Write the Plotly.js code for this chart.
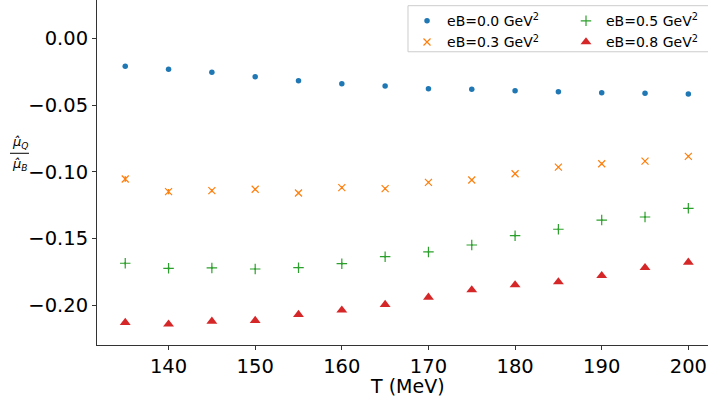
<!DOCTYPE html>
<html>
<head>
<meta charset="utf-8">
<script src="https://cdn.plot.ly/plotly-3.0.1.min.js"></script>
<style>html,body{margin:0;padding:0;background:#fff;}#chart{width:708px;height:401px;}</style>
</head>
<body>
<div id="chart"></div>
<script>
// Temperatures (MeV)
var T = [135, 140, 145, 150, 155, 160, 165, 170, 175, 180, 185, 190, 195, 200];

// mu_Q / mu_B ratios for each magnetic field
var eB00 = [-0.0208, -0.0231, -0.0253, -0.0286, -0.0316, -0.0339, -0.0356, -0.0376, -0.0381, -0.0391, -0.0399, -0.0406, -0.0411, -0.0416];
var eB03 = [-0.1053, -0.1148, -0.1141, -0.1130, -0.1158, -0.1118, -0.1126, -0.1078, -0.1061, -0.1014, -0.0964, -0.0939, -0.0919, -0.0883];
var eB05 = [-0.1685, -0.1723, -0.1720, -0.1728, -0.1718, -0.1688, -0.1636, -0.1600, -0.1548, -0.1478, -0.1430, -0.1361, -0.1338, -0.1273];
var eB08 = [-0.2130, -0.2142, -0.2120, -0.2115, -0.2070, -0.2037, -0.1995, -0.1940, -0.1885, -0.1848, -0.1825, -0.1778, -0.1718, -0.1678];

// error estimates
var err00 = [0.0006, 0.0006, 0.0006, 0.0006, 0.0006, 0.0006, 0.0006, 0.0006, 0.0006, 0.0006, 0.0006, 0.0006, 0.0006, 0.0006];
var err03 = [0.0020, 0.0020, 0.0012, 0.0010, 0.0010, 0.0010, 0.0010, 0.0008, 0.0008, 0.0008, 0.0008, 0.0008, 0.0008, 0.0008];
var err05 = [0.0010, 0.0010, 0.0008, 0.0008, 0.0008, 0.0008, 0.0008, 0.0008, 0.0008, 0.0008, 0.0008, 0.0008, 0.0008, 0.0008];
var err08 = [0.0006, 0.0006, 0.0006, 0.0006, 0.0006, 0.0006, 0.0006, 0.0006, 0.0006, 0.0006, 0.0006, 0.0006, 0.0006, 0.0006];

var names = ['eB=0.0 GeV<sup>2</sup>', 'eB=0.3 GeV<sup>2</sup>', 'eB=0.5 GeV<sup>2</sup>', 'eB=0.8 GeV<sup>2</sup>'];
var colors = ['#1f77b4', '#ff7f0e', '#2ca02c', '#d62728'];

function errTrace(y, e, name, color, marker, legendId) {
  return {
    x: T, y: y, type: 'scatter', mode: 'markers', name: name,
    legend: legendId,
    error_y: {type: 'data', array: e, visible: true, color: color, thickness: 1.5, width: 0},
    marker: marker
  };
}

var data = [
  errTrace(eB00, err00, names[0], colors[0], {symbol: 'circle', size: 5.5, color: colors[0]}, 'legend'),
  errTrace(eB03, err03, names[1], colors[1], {symbol: 'x-thin-open', size: 7, color: colors[1], line: {color: colors[1], width: 1.2}}, 'legend'),
  errTrace(eB05, err05, names[2], colors[2], {symbol: 'cross-thin-open', size: 7.5, color: colors[2], line: {color: colors[2], width: 1.2}}, 'legend2'),
  errTrace(eB08, err08, names[3], colors[3], {symbol: 'triangle-up', size: 9.5, color: colors[3]}, 'legend2')
];

var layout = {
  width: 708, height: 401,
  margin: {l: 97, r: 0, t: 0, b: 56},
  paper_bgcolor: '#fff', plot_bgcolor: '#fff',
  font: {family: 'DejaVu Sans', size: 19, color: '#000'},
  showlegend: true,
  xaxis: {
    range: [131.74, 202.27], tickvals: [140, 150, 160, 170, 180, 190, 200],
    showline: true, linecolor: '#333', linewidth: 1, mirror: false,
    ticks: 'outside', ticklen: 4, tickcolor: '#333', tickwidth: 1,
    showgrid: false, zeroline: false,
    tickfont: {family: 'DejaVu Sans', size: 19.5, color: '#000'}
  },
  yaxis: {
    range: [-0.2298, 0.0289], tickvals: [0, -0.05, -0.10, -0.15, -0.20], tickformat: '.2f',
    showline: true, linecolor: '#333', linewidth: 1,
    ticks: 'outside', ticklen: 4, tickcolor: '#333', tickwidth: 1,
    showgrid: false, zeroline: false,
    tickfont: {family: 'DejaVu Sans', size: 19.5, color: '#000'}
  },
  legend: {
    x: 0.5074, y: 0.985, xanchor: 'left', yanchor: 'top',
    bgcolor: 'rgba(0,0,0,0)', borderwidth: 0,
    font: {family: 'DejaVu Sans', size: 14, color: '#000'},
    tracegroupgap: 0
  },
  legend2: {
    x: 0.7676, y: 0.985, xanchor: 'left', yanchor: 'top',
    bgcolor: 'rgba(0,0,0,0)', borderwidth: 0,
    font: {family: 'DejaVu Sans', size: 14, color: '#000'},
    tracegroupgap: 0
  },
  shapes: [
    {type: 'rect', xref: 'paper', yref: 'paper', x0: 0.509, x1: 1.02, y0: 0.850, y1: 0.9835,
     line: {color: '#cccccc', width: 1}, fillcolor: 'rgba(255,255,255,0.8)', layer: 'above'},
    {type: 'line', xref: 'paper', yref: 'paper', x0: -0.1424, x1: -0.1113, y0: 0.5557, y1: 0.5557,
     line: {color: '#000', width: 1}}
  ],
  annotations: [
    {xref: 'paper', yref: 'paper', x: 0.508, y: -0.1064, xanchor: 'center', yanchor: 'middle', yshift: -4,
     text: 'T (MeV)', showarrow: false, font: {family: 'DejaVu Sans', size: 19, color: '#000'}},
    {xref: 'paper', yref: 'paper', x: -0.1265, y: 0.5557, yanchor: 'bottom', xanchor: 'center', yshift: 0,
     text: '<i>μ̂</i><sub><i>Q</i></sub>', showarrow: false, font: {family: 'DejaVu Sans', size: 13, color: '#000'}},
    {xref: 'paper', yref: 'paper', x: -0.1265, y: 0.5557, yanchor: 'top', xanchor: 'center', yshift: -1,
     text: '<i>μ̂</i><sub><i>B</i></sub>', showarrow: false, font: {family: 'DejaVu Sans', size: 13, color: '#000'}}
  ]
};

Plotly.newPlot('chart', data, layout, {displayModeBar: false, staticPlot: true});
</script>
</body>
</html>
